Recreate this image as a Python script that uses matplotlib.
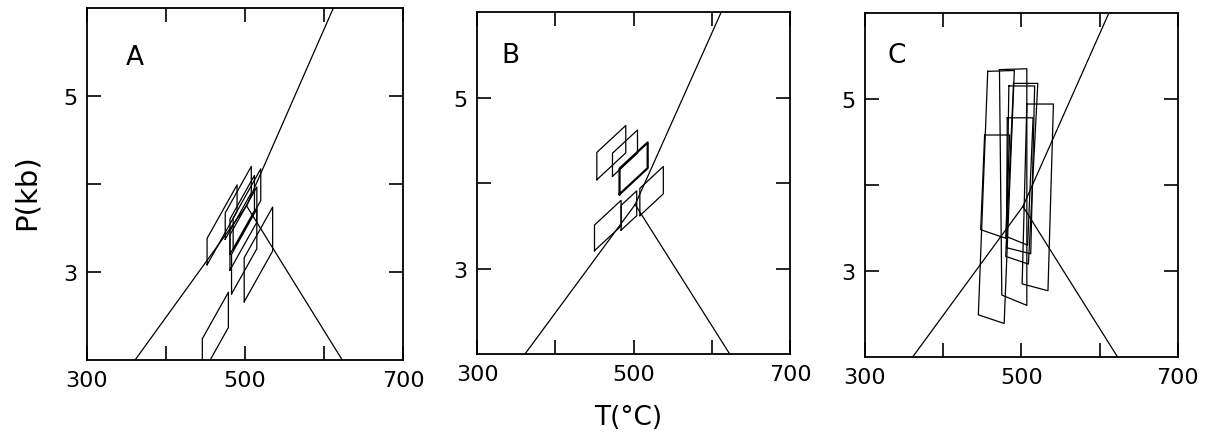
import numpy as np
import matplotlib.pyplot as plt

# Al2SiO5 phase boundaries (T in C, P in kb)
ky_and_T = [361, 502]
ky_and_P = [2.0, 3.75]
ky_sil_T = [502, 612]
ky_sil_P = [3.75, 6.0]
and_sil_T = [502, 623]
and_sil_P = [3.75, 2.0]

# panel A boxes: T left, T right, P bottom-left, height (kb)
boxA_tl = [452, 475, 485, 481, 481, 483, 499, 446]
boxA_tr = [490, 508, 520, 515, 512, 515, 535, 479]
boxA_pb = [3.08, 3.37, 3.25, 3.02, 3.20, 2.75, 2.66, 1.84]
boxA_h = [0.30, 0.30, 0.36, 0.40, 0.40, 0.45, 0.50, 0.40]
slopeA = 0.016

# panel B boxes
boxB_tl = [453, 473, 482, 508, 450, 484]
boxB_tr = [490, 505, 518, 538, 484, 504]
boxB_pb = [4.04, 4.08, 3.87, 3.62, 3.21, 3.45]
boxB_h = [0.32, 0.27, 0.30, 0.32, 0.30, 0.29]
boxB_lw = [0.9, 0.9, 1.6, 0.9, 0.9, 0.9]
slopeB = 0.0085

# panel C boxes: corners TL, TR, BR, BL
boxC_T = [[457, 491, 478, 445],
          [472, 507, 507, 475],
          [490, 521, 509, 480],
          [484, 517, 512, 481],
          [507, 541, 534, 501],
          [482, 515, 508, 481],
          [453, 485, 480, 448]]
boxC_P = [[5.32, 5.33, 2.39, 2.49],
          [5.34, 5.35, 2.60, 2.72],
          [5.18, 5.18, 3.08, 3.17],
          [5.15, 5.15, 3.20, 3.27],
          [4.94, 4.94, 2.77, 2.85],
          [4.78, 4.78, 3.30, 3.40],
          [4.58, 4.58, 3.38, 3.48]]

fig = plt.figure(figsize=(12.08, 4.39), dpi=100)
axA = fig.add_axes([0.072, 0.178, 0.2616, 0.802])
axB = fig.add_axes([0.395, 0.191, 0.259, 0.779])
axC = fig.add_axes([0.716, 0.1845, 0.259, 0.784])

lw = 0.9

def setup(ax, letter, lx, ly):
    ax.plot(ky_and_T, ky_and_P, 'k-', lw=lw)
    ax.plot(ky_sil_T, ky_sil_P, 'k-', lw=lw)
    ax.plot(and_sil_T, and_sil_P, 'k-', lw=lw)
    ax.set_xlim(300, 700)
    ax.set_ylim(2, 6)
    ax.set_xticks([300, 400, 500, 600, 700])
    ax.set_xticklabels(['300', '', '500', '', '700'])
    ax.set_yticks([3, 4, 5])
    ax.set_yticklabels(['3', '', '5'])
    ax.tick_params(direction='in', length=10, width=1.2, top=True, right=True,
                   labelsize=16, pad=7)
    for s in ax.spines.values():
        s.set_linewidth(1.3)
    ax.text(lx, ly, letter, fontsize=19, va='center', ha='center')

setup(axA, 'A', 361, 5.44)
setup(axB, 'B', 342, 5.5)
setup(axC, 'C', 341, 5.51)

for i in range(len(boxA_tl)):
    t1, t2 = boxA_tl[i], boxA_tr[i]
    p1 = boxA_pb[i]
    p2 = p1 + slopeA * (t2 - t1)
    h = boxA_h[i]
    axA.plot([t1, t1, t2, t2, t1], [p1, p1 + h, p2 + h, p2, p1], 'k-', lw=lw)

for i in range(len(boxB_tl)):
    t1, t2 = boxB_tl[i], boxB_tr[i]
    p1 = boxB_pb[i]
    p2 = p1 + slopeB * (t2 - t1)
    h = boxB_h[i]
    axB.plot([t1, t1, t2, t2, t1], [p1, p1 + h, p2 + h, p2, p1], 'k-',
             lw=boxB_lw[i])

for T, P in zip(boxC_T, boxC_P):
    axC.plot(T + [T[0]], P + [P[0]], 'k-', lw=lw)

fig.text(0.022, 0.563, 'P(kb)', rotation=90, fontsize=21, ha='center', va='center')
fig.text(0.52, 0.048, 'T(°C)', fontsize=19, ha='center', va='center')

fig.savefig('out.png', dpi=100)
